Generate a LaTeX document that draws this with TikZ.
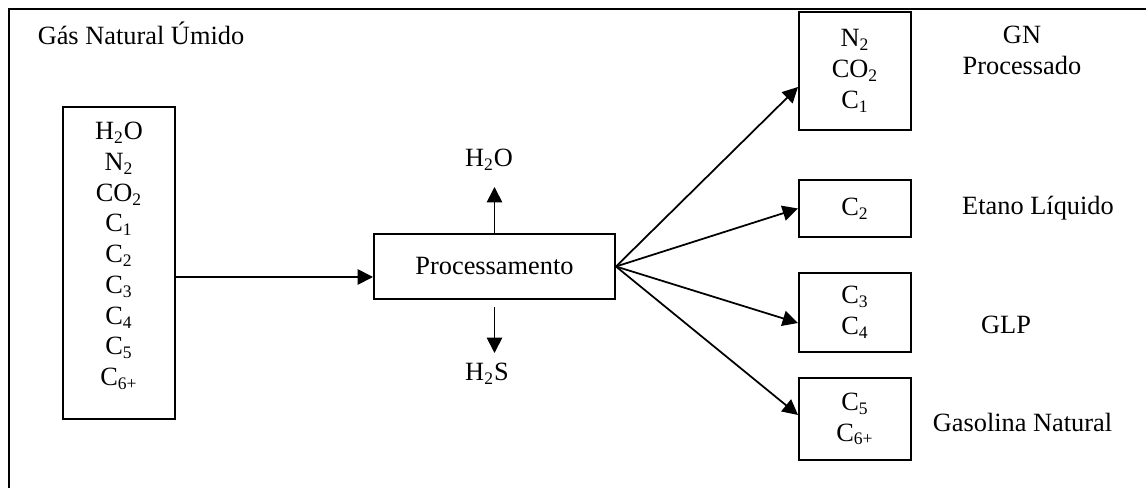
\documentclass[tikz,border=0pt]{standalone}
\usepackage{fontspec}
\setmainfont{Liberation Serif}
\usetikzlibrary{arrows.meta}

\begin{document}
\begin{tikzpicture}[
    every node/.append style={font=\fontsize{12}{14}\selectfont},
    flowbox/.style={draw, line width=0.9pt, align=center, inner sep=0pt, minimum width=1.792cm},
    arr/.style={line width=0.8pt, -{Triangle[length=7pt,width=7pt]}}
  ]
    \useasboundingbox (0,0) rectangle (18.336,7.808) ;
    % outer frame (only top and left sides are in view)
    \draw[line width=1.1pt] (0.144,0) -- (0.144,7.664) -- (18.336,7.664) ;
    \node[anchor=base west] at (0.48,7.09) (title) {Gás Natural Úmido} ;

    % feed
    \node[flowbox, minimum height=4.992cm] at (1.904,3.6) (inlet)
      {H\textsubscript{2}O\\N\textsubscript{2}\\CO\textsubscript{2}\\C\textsubscript{1}\\C\textsubscript{2}\\C\textsubscript{3}\\C\textsubscript{4}\\C\textsubscript{5}\\C\textsubscript{6+}\\[-0.2cm]} ;

    % processing unit
    \node[flowbox, minimum width=3.856cm, minimum height=1.04cm] at (7.912,3.544) (proc) {Processamento} ;
    \node at (7.824,5.25) (water) {H\textsubscript{2}O} ;
    \node at (7.792,1.824) (sulf) {H\textsubscript{2}S} ;
    \coordinate (wout) at (7.912,4.816) ;
    \coordinate (sout) at (7.912,2.16) ;

    % products
    \node[flowbox, minimum height=1.888cm] at (13.68,6.672) (gnbox)
      {N\textsubscript{2}\\CO\textsubscript{2}\\C\textsubscript{1}} ;
    \node[flowbox, minimum height=0.912cm] at (13.68,4.472) (etbox) {C\textsubscript{2}} ;
    \node[flowbox, minimum height=1.264cm] at (13.68,2.808) (glpbox)
      {C\textsubscript{3}\\C\textsubscript{4}} ;
    \node[flowbox, minimum height=1.312cm] at (13.68,1.104) (gasbox)
      {C\textsubscript{5}\\C\textsubscript{6+}} ;

    \node[align=center] at (16.352,7.0) (gnlab) {GN\\Processado} ;
    \node at (16.608,4.48) (etlab) {Etano Líquido} ;
    \node at (16.096,2.608) (glplab) {GLP} ;
    \node at (16.36,1.056) (gaslab) {Gasolina Natural} ;

    % streams
    \draw[arr] ([yshift=-0.224cm]inlet.east) -- ([yshift=-0.168cm]proc.west) ;
    \draw[arr] (proc.north) -- (wout) ;
    \draw[arr, shorten <=0.11cm] (proc.south) -- (sout) ;
    \draw[arr] (proc.east) -- ([yshift=-0.256cm]gnbox.west) ;
    \draw[arr] (proc.east) -- (etbox.west) ;
    \draw[arr] (proc.east) -- ([yshift=-0.168cm]glpbox.west) ;
    \draw[arr] (proc.east) -- ([yshift=0.064cm]gasbox.west) ;
  \end{tikzpicture}
\end{document}
